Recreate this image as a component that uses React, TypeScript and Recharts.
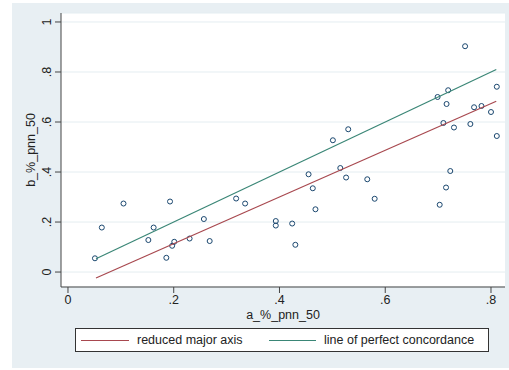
import React from 'react';
import { ScatterChart, Scatter, XAxis, YAxis, CartesianGrid } from 'recharts';

const aPnn50 = [
  0.051, 0.064, 0.105, 0.152, 0.162, 0.193, 0.186, 0.197, 0.201, 0.23,
  0.257, 0.268, 0.318, 0.335, 0.393, 0.393, 0.424, 0.43, 0.455, 0.463,
  0.468, 0.515, 0.526, 0.566, 0.58, 0.703, 0.715, 0.723, 0.501, 0.53,
  0.699, 0.719, 0.716, 0.71, 0.73, 0.751, 0.761, 0.768, 0.782, 0.8,
  0.811, 0.811,
];
const bPnn50 = [
  0.055, 0.178, 0.274, 0.128, 0.178, 0.282, 0.057, 0.105, 0.121, 0.134,
  0.212, 0.124, 0.294, 0.274, 0.204, 0.186, 0.194, 0.109, 0.391, 0.335,
  0.251, 0.416, 0.378, 0.371, 0.293, 0.269, 0.338, 0.404, 0.527, 0.571,
  0.7, 0.727, 0.672, 0.596, 0.578, 0.903, 0.592, 0.659, 0.664, 0.64,
  0.741, 0.544,
];
const xTicks = [0, 0.2, 0.4, 0.6, 0.8];
const yTicks = [0, 0.2, 0.4, 0.6, 0.8, 1];
const lineX = [0.053, 0.81];
const rmaY = [-0.024, 0.683];
const concordanceY = [0.053, 0.81];

const points = aPnn50.map((x, i) => ({ x, y: bPnn50[i] }));
const rmaData = lineX.map((x, i) => ({ x, y: rmaY[i] }));
const concData = lineX.map((x, i) => ({ x, y: concordanceY[i] }));

const FONT = '"Liberation Sans", Arial, sans-serif';
const TEXT = '#222';
const AXIS = '#444';
const RED = '#a8484f';
const GREEN = '#3a8676';
const NAVY = '#1a476f';

const fmt = (v: number) => (v === 0 ? '0' : v === 1 ? '1' : String(v).replace(/^0/, ''));

const YTick = (props: any) => {
  const { x, y, payload } = props;
  const tx = x - 6;
  return (
    <text
      x={tx}
      y={y}
      transform={`rotate(-90, ${tx}, ${y})`}
      textAnchor="middle"
      dominantBaseline="central"
      fontSize={12.5}
      fill={TEXT}
      fontFamily={FONT}
    >
      {fmt(payload.value)}
    </text>
  );
};

const XTick = (props: any) => {
  const { x, y, payload } = props;
  return (
    <text x={x} y={y} dy="0.71em" textAnchor="middle" fontSize={12.5} fill={TEXT} fontFamily={FONT}>
      {fmt(payload.value)}
    </text>
  );
};

const Dot = (props: any) => (
  <circle cx={props.cx} cy={props.cy} r={2.5} fill="none" stroke={NAVY} strokeWidth={1} />
);
const NoShape = () => <g />;

export default function App() {
  return (
    <div style={{ position: 'absolute', left: 0, top: 0, width: 509, height: 370, background: '#fff', fontFamily: FONT }}>
      <div style={{ position: 'absolute', left: 12, top: 3, width: 497, height: 365, background: '#e8eff3' }} />
      <div style={{ position: 'absolute', left: 0, top: 0 }}>
        <ScatterChart width={509} height={370} margin={{ top: 13, right: 4, bottom: 53, left: 21 }}>
          <CartesianGrid vertical={false} horizontal={true} stroke="#e4edf1" fill="#ffffff" />
          <XAxis
            type="number"
            dataKey="x"
            domain={[-0.0132, 0.8265]}
            allowDataOverflow
            ticks={xTicks}
            interval={0}
            height={30}
            tick={<XTick />}
            tickSize={6}
            axisLine={{ stroke: AXIS }}
            tickLine={{ stroke: AXIS }}
          />
          <YAxis
            type="number"
            dataKey="y"
            domain={[-0.0598, 1.0359]}
            allowDataOverflow
            ticks={yTicks}
            interval={0}
            width={40}
            tick={<YTick />}
            tickSize={6}
            axisLine={{ stroke: AXIS }}
            tickLine={{ stroke: AXIS }}
          />
          <Scatter data={points} shape={<Dot />} isAnimationActive={false} />
          <Scatter data={rmaData} line={{ stroke: RED, strokeWidth: 1.2 }} shape={<NoShape />} isAnimationActive={false} />
          <Scatter data={concData} line={{ stroke: GREEN, strokeWidth: 1.2 }} shape={<NoShape />} isAnimationActive={false} />
        </ScatterChart>
      </div>
      <div
        style={{
          position: 'absolute', left: 283, top: 315, transform: 'translate(-50%, -50%)',
          fontSize: 12.5, color: TEXT, whiteSpace: 'nowrap',
        }}
      >
        a_%_pnn_50
      </div>
      <div
        style={{
          position: 'absolute', left: 31, top: 150, transform: 'translate(-50%, -50%) rotate(-90deg)',
          fontSize: 12.5, color: TEXT, whiteSpace: 'nowrap',
        }}
      >
        b_%_pnn_50
      </div>
      <div
        style={{
          position: 'absolute', left: 75, top: 328, width: 414, height: 24, boxSizing: 'border-box',
          border: '1px solid #333', background: '#fff',
        }}
      >
        <div style={{ position: 'absolute', left: 5, top: 11, width: 48, height: 0, borderTop: `1.2px solid ${RED}` }} />
        <span style={{ position: 'absolute', left: 61, top: 3, fontSize: 12.5, color: TEXT, whiteSpace: 'nowrap', lineHeight: '16px' }}>
          reduced major axis
        </span>
        <div style={{ position: 'absolute', left: 193, top: 11, width: 47, height: 0, borderTop: `1.2px solid ${GREEN}` }} />
        <span style={{ position: 'absolute', left: 248, top: 3, fontSize: 12.5, color: TEXT, whiteSpace: 'nowrap', lineHeight: '16px' }}>
          line of perfect concordance
        </span>
      </div>
    </div>
  );
}
